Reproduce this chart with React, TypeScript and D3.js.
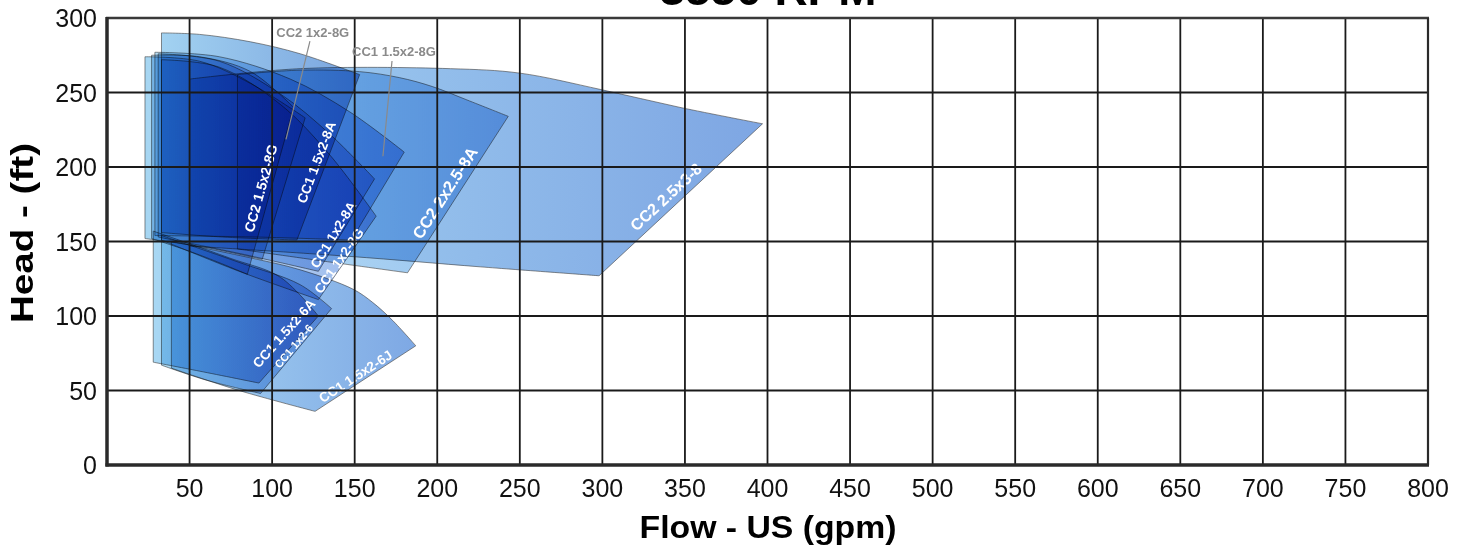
import { useEffect, useRef } from "react";
import * as d3 from "d3";

type Pt = [number, number];

const flowTicks = [50, 100, 150, 200, 250, 300, 350, 400, 450, 500, 550, 600, 650, 700, 750, 800];
const headTicks = [0, 50, 100, 150, 200, 250, 300];

// each coverage area: max impeller curve (top) and min impeller curve (bottom), flow gpm / head ft
const cc2_25x3_8_top: Pt[] = [[50, 259], [117, 266], [208, 266], [250, 263], [299, 252], [347, 240], [397, 229]];
const cc2_25x3_8_bottom: Pt[] = [[50, 147], [147, 140], [226, 133], [298, 127]];

const cc2_2x25_8a_top: Pt[] = [[79, 262], [117, 265], [153, 264], [177, 260], [197, 254], [218, 245], [243, 234]];
const cc2_2x25_8a_bottom: Pt[] = [[79, 145], [130, 137], [182, 129]];

const cc1_15x2_8g_top: Pt[] = [[29, 277], [68, 274], [111, 259], [147, 237], [180, 210]];
const cc1_15x2_8g_bottom: Pt[] = [[29, 154], [90, 153], [148, 151]];

const cc1_15x2_8a_top: Pt[] = [[33, 290], [56, 289], [87, 284], [117, 276], [153, 262]];
const cc1_15x2_8a_bottom: Pt[] = [[33, 156], [70, 153], [115, 151]];

const cc2_1x2_8g_top: Pt[] = [[23, 274], [56, 271], [87, 256], [120, 233]];
const cc2_1x2_8g_bottom: Pt[] = [[23, 152], [60, 146], [94, 138]];

const cc2_15x2_8g_top: Pt[] = [[27, 275], [56, 274], [87, 264], [113, 240]];
const cc2_15x2_8g_bottom: Pt[] = [[27, 152], [56, 141], [85, 128]];

const cc1_1x2_8a_top: Pt[] = [[31, 276], [68, 271], [105, 249], [135, 222], [162, 192]];
const cc1_1x2_8a_bottom: Pt[] = [[31, 153], [80, 142], [128, 130]];

const cc1_1x2_8g_top: Pt[] = [[33, 272], [68, 267], [105, 242], [135, 208], [163, 167]];
const cc1_1x2_8g_bottom: Pt[] = [[33, 151], [80, 130], [128, 111]];

const cc1_15x2_6a_top: Pt[] = [[28, 157], [74, 139], [105, 126], [128, 100]];
const cc1_15x2_6a_bottom: Pt[] = [[28, 69], [56, 63], [92, 55]];

const cc1_1x2_6_top: Pt[] = [[33, 154], [80, 136], [117, 121], [136, 105]];
const cc1_1x2_6_bottom: Pt[] = [[33, 67], [60, 57], [93, 48]];

const cc1_15x2_6j_top: Pt[] = [[39, 150], [87, 139], [117, 131], [149, 118], [161, 109], [173, 97], [187, 80]];
const cc1_15x2_6j_bottom: Pt[] = [[39, 65], [80, 50], [126, 36]];

// call-out labels for areas that are hidden under the others
const calloutNames = ["CC2 1x2-8G", "CC1 1.5x2-8G"];
const calloutText: Pt[] = [[102.5, 287.3], [148.4, 274.4]];
const calloutFrom: Pt[] = [[122.9, 284.5], [172.6, 271.1]];
const calloutTo: Pt[] = [[108.4, 218.6], [167.1, 207.2]];

// t: where along the runout edge the name sits, off: px inward from the edge
const pumps = [
  { name: "CC2 2.5x3-8", top: cc2_25x3_8_top, bottom: cc2_25x3_8_bottom, c0: "#a2d0f1", c1: "#7ea6e3", size: 16, label: true, t: 0.54, off: 12 },
  { name: "CC2 2x2.5-8A", top: cc2_2x25_8a_top, bottom: cc2_2x25_8a_bottom, c0: "#b4dcf5", c1: "#98c2ee", size: 16.5, label: true, t: 0.53, off: 12 },
  { name: "CC1 1.5x2-8G", top: cc1_15x2_8g_top, bottom: cc1_15x2_8g_bottom, c0: "#b8def6", c1: "#8cb6ee", size: 13, label: false, t: 0.5, off: 9 },
  { name: "CC1 1.5x2-8A", top: cc1_15x2_8a_top, bottom: cc1_15x2_8a_bottom, c0: "#a2d2f1", c1: "#7aa4de", size: 13.5, label: true, t: 0.55, off: 9 },
  { name: "CC2 1x2-8G", top: cc2_1x2_8g_top, bottom: cc2_1x2_8g_bottom, c0: "#a6d6f2", c1: "#b0c4ec", size: 13, label: false, t: 0.5, off: 9 },
  { name: "CC2 1.5x2-8G", top: cc2_15x2_8g_top, bottom: cc2_15x2_8g_bottom, c0: "#b4d8f2", c1: "#a8b8e8", size: 14, label: true, t: 0.5, off: 10 },
  { name: "CC1 1x2-8A", top: cc1_1x2_8a_top, bottom: cc1_1x2_8a_bottom, c0: "#b8dcf4", c1: "#a0bcec", size: 13.5, label: true, t: 0.64, off: 6 },
  { name: "CC1 1x2-8G", top: cc1_1x2_8g_top, bottom: cc1_1x2_8g_bottom, c0: "#bee0f6", c1: "#9cb8ec", size: 13.5, label: true, t: 0.57, off: 5 },
  { name: "CC1 1.5x2-6A", top: cc1_15x2_6a_top, bottom: cc1_15x2_6a_bottom, c0: "#a8d8f4", c1: "#8aa6e0", size: 13.5, label: true, t: 0.4, off: 14 },
  { name: "CC1 1x2-6", top: cc1_1x2_6_top, bottom: cc1_1x2_6_bottom, c0: "#b0dcf4", c1: "#98b8ea", size: 11, label: true, t: 0.48, off: 5 },
  { name: "CC1 1.5x2-6J", top: cc1_15x2_6j_top, bottom: cc1_15x2_6j_bottom, c0: "#a4d2f2", c1: "#7ea8e4", size: 13.5, label: true, t: 0.56, off: 7 },
];

const W = 1468;
const H = 547;
const FONT = "'Liberation Sans', Arial, Helvetica, sans-serif";

const App = () => {
  const svgRef = useRef<SVGSVGElement | null>(null);

  useEffect(() => {
    if (!svgRef.current) return;
    const svg = d3.select(svgRef.current);
    svg.selectAll("*").remove();

    const x = d3.scaleLinear().domain([0, 800]).range([107, 1428]);
    const y = d3.scaleLinear().domain([0, 300]).range([465, 18]);

    svg.append("rect").attr("width", W).attr("height", H).attr("fill", "#fff");

    const defs = svg.append("defs");
    pumps.forEach((p, i) => {
      const g = defs.append("linearGradient").attr("id", `pg${i}`).attr("x1", 0).attr("x2", 1).attr("y1", 0).attr("y2", 0);
      g.append("stop").attr("offset", "0%").attr("stop-color", p.c0);
      g.append("stop").attr("offset", "100%").attr("stop-color", p.c1);
    });

    const line = d3.line<Pt>()
      .x(d => x(d[0]))
      .y(d => y(d[1]))
      .curve(d3.curveCatmullRom.alpha(0.5));

    // coverage areas, multiplied so the overlaps darken
    const areas = svg.append("g").style("isolation", "isolate");
    pumps.forEach((p, i) => {
      const d = (line(p.top) as string) + "L" + (line(p.bottom.slice().reverse()) as string).slice(1) + "Z";
      areas.append("path")
        .attr("d", d)
        .attr("fill", `url(#pg${i})`)
        .attr("stroke", "#3a3a3a")
        .attr("stroke-opacity", 0.65)
        .attr("stroke-width", 0.9)
        .style("mix-blend-mode", "multiply");
    });

    // labels along the runout edge
    pumps.filter(p => p.label).forEach(p => {
      const tr = p.top[p.top.length - 1];
      const br = p.bottom[p.bottom.length - 1];
      const x0 = x(tr[0]), y0 = y(tr[1]), x1 = x(br[0]), y1 = y(br[1]);
      const len = Math.hypot(x1 - x0, y1 - y0);
      const ux = (x1 - x0) / len, uy = (y1 - y0) / len;
      const cx = x0 + p.t * (x1 - x0) - uy * p.off;
      const cy = y0 + p.t * (y1 - y0) + ux * p.off;
      const ang = Math.atan2(y0 - y1, x0 - x1) * 180 / Math.PI;
      svg.append("text")
        .attr("transform", `translate(${cx},${cy}) rotate(${ang})`)
        .attr("text-anchor", "middle")
        .attr("dominant-baseline", "central")
        .attr("font-family", FONT)
        .attr("font-weight", "bold")
        .attr("font-size", p.size)
        .attr("fill", "#fff")
        .text(p.name);
    });

    // grid
    const grid = svg.append("g").attr("stroke", "#1a1a1a").attr("stroke-width", 1.8);
    flowTicks.forEach(f => {
      grid.append("line").attr("x1", x(f)).attr("x2", x(f)).attr("y1", y(0)).attr("y2", y(300));
    });
    headTicks.filter(h => h > 0).forEach(h => {
      grid.append("line").attr("x1", x(0)).attr("x2", x(800)).attr("y1", y(h)).attr("y2", y(h));
    });
    svg.append("line").attr("x1", x(0) - 1).attr("x2", x(800) + 1).attr("y1", y(300)).attr("y2", y(300))
      .attr("stroke", "#3a3a3a").attr("stroke-width", 2.5);
    svg.append("line").attr("x1", x(800)).attr("x2", x(800)).attr("y1", y(300)).attr("y2", y(0))
      .attr("stroke", "#2a2a2a").attr("stroke-width", 2.2);
    svg.append("line").attr("x1", x(0)).attr("x2", x(0)).attr("y1", y(300) - 1).attr("y2", y(0) + 1.5)
      .attr("stroke", "#2a2a2a").attr("stroke-width", 3.5);
    svg.append("line").attr("x1", x(0) - 1.5).attr("x2", x(800) + 1).attr("y1", y(0)).attr("y2", y(0))
      .attr("stroke", "#2a2a2a").attr("stroke-width", 3.5);

    // callouts
    calloutNames.forEach((n, i) => {
      svg.append("line")
        .attr("x1", x(calloutFrom[i][0])).attr("y1", y(calloutFrom[i][1]))
        .attr("x2", x(calloutTo[i][0])).attr("y2", y(calloutTo[i][1]))
        .attr("stroke", "#8a8a8a").attr("stroke-width", 1.2);
      svg.append("text")
        .attr("x", x(calloutText[i][0])).attr("y", y(calloutText[i][1]))
        .attr("font-family", FONT).attr("font-weight", "bold").attr("font-size", 13)
        .attr("fill", "#8a8a8a")
        .text(n);
    });

    // tick labels
    svg.append("g").selectAll("text").data(flowTicks).join("text")
      .attr("x", d => x(d)).attr("y", 497)
      .attr("text-anchor", "middle")
      .attr("font-family", FONT).attr("font-size", 25).attr("fill", "#111")
      .text(d => d);
    svg.append("g").selectAll("text").data(headTicks).join("text")
      .attr("x", 97).attr("y", d => y(d))
      .attr("text-anchor", "end").attr("dominant-baseline", "central")
      .attr("font-family", FONT).attr("font-size", 25).attr("fill", "#111")
      .text(d => d);

    // titles
    svg.append("text")
      .attr("x", 768).attr("y", 538)
      .attr("text-anchor", "middle")
      .attr("font-family", FONT).attr("font-weight", 900).attr("font-size", 31)
      .attr("textLength", 257).attr("lengthAdjust", "spacingAndGlyphs")
      .attr("fill", "#000")
      .text("Flow - US (gpm)");
    svg.append("text")
      .attr("transform", "translate(33,233) rotate(-90)")
      .attr("text-anchor", "middle")
      .attr("font-family", FONT).attr("font-weight", 900).attr("font-size", 31)
      .attr("textLength", 180).attr("lengthAdjust", "spacingAndGlyphs")
      .attr("fill", "#000")
      .text("Head - (ft)");
    svg.append("text")
      .attr("x", 768).attr("y", 5)
      .attr("text-anchor", "middle")
      .attr("font-family", FONT).attr("font-weight", 900).attr("font-size", 44)
      .attr("textLength", 217).attr("lengthAdjust", "spacingAndGlyphs")
      .attr("fill", "#000")
      .text("3550 RPM");
  }, []);

  return (
    <svg
      ref={svgRef}
      width={W}
      height={H}
      style={{ position: "absolute", left: 0, top: 0, display: "block" }}
    />
  );
};

export default App;
